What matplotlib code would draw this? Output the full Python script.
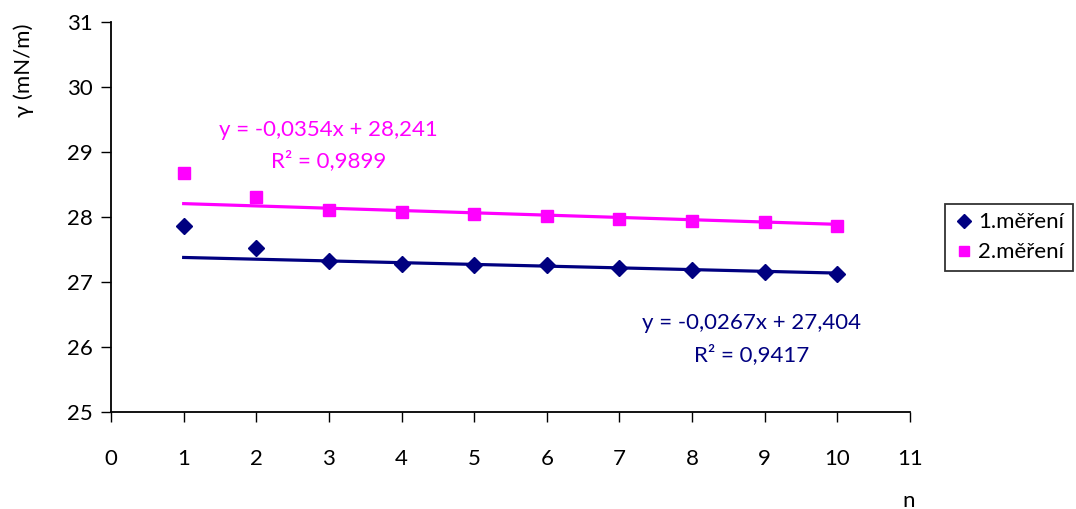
import matplotlib
matplotlib.use('Agg')
import matplotlib.pyplot as plt
import numpy as np

plt.rcParams['font.family'] = ['Lato', 'DejaVu Sans']

# naměřené hodnoty povrchového napětí
n = [1, 2, 3, 4, 5, 6, 7, 8, 9, 10]
mereni1 = [27.86, 27.52, 27.32, 27.27, 27.26, 27.26, 27.22, 27.19, 27.15, 27.12]
mereni2 = [28.68, 28.31, 28.11, 28.08, 28.05, 28.01, 27.97, 27.94, 27.92, 27.86]

# lineární trendy (směrnice, úsek, R²)
trend1 = (-0.0267, 27.404, 0.9417)
trend2 = (-0.0354, 28.241, 0.9899)

navy = '#000080'
magenta = '#FF00FF'
fs = 16

fig = plt.figure(figsize=(10.76, 5.09), dpi=100)
ax = fig.add_axes([0.1032, 0.1906, 0.7425, 0.7662])

x = np.array(n)
ax.plot(x, trend1[0] * x + trend1[1], color=navy, lw=2.3, zorder=2)
ax.plot(x, trend2[0] * x + trend2[1], color=magenta, lw=2.3, zorder=2)
ax.plot(n, mereni1, 'D', color=navy, ms=8.5, ls='none', label='1.měření', zorder=3)
ax.plot(n, mereni2, 's', color=magenta, ms=8.5, ls='none', label='2.měření', zorder=3)

def fmt(v, d):
    return f'{v:.{d}f}'.replace('.', ',')

ax.text(2.99, 29.34, f'y = {fmt(trend2[0], 4)}x + {fmt(trend2[1], 3)}',
        color=magenta, fontsize=fs, ha='center', va='center')
ax.text(2.99, 28.86, f'R² = {fmt(trend2[2], 4)}',
        color=magenta, fontsize=fs, ha='center', va='center')
ax.text(8.82, 26.37, f'y = {fmt(trend1[0], 4)}x + {fmt(trend1[1], 3)}',
        color=navy, fontsize=fs, ha='center', va='center')
ax.text(8.82, 25.88, f'R² = {fmt(trend1[2], 4)}',
        color=navy, fontsize=fs, ha='center', va='center')

ax.set_xlim(0, 11)
ax.set_ylim(25, 31)
ax.set_xticks(range(0, 12))
ax.set_yticks(range(25, 32))
ax.tick_params(labelsize=fs, length=7, width=1, pad=4)
ax.tick_params(axis='x', pad=20)
ax.tick_params(axis='y', pad=6)
for s in ['top', 'right']:
    ax.spines[s].set_visible(False)
for s in ['left', 'bottom']:
    ax.spines[s].set_linewidth(1.3)

fig.text(0.022, 0.862, 'γ (mN/m)', rotation=90, fontsize=fs, ha='center', va='center')
fig.text(0.844, 0.016, 'n', fontsize=fs, ha='center', va='center')

leg = ax.legend(loc='upper left', bbox_to_anchor=(0.868, 0.622), bbox_transform=fig.transFigure,
                fontsize=fs, frameon=True, fancybox=False, edgecolor='black',
                handletextpad=0.2, handlelength=0.9, borderpad=0.4, labelspacing=0.45,
                markerscale=0.8)
leg.get_frame().set_linewidth(1.3)

fig.savefig('out.png', dpi=100)
